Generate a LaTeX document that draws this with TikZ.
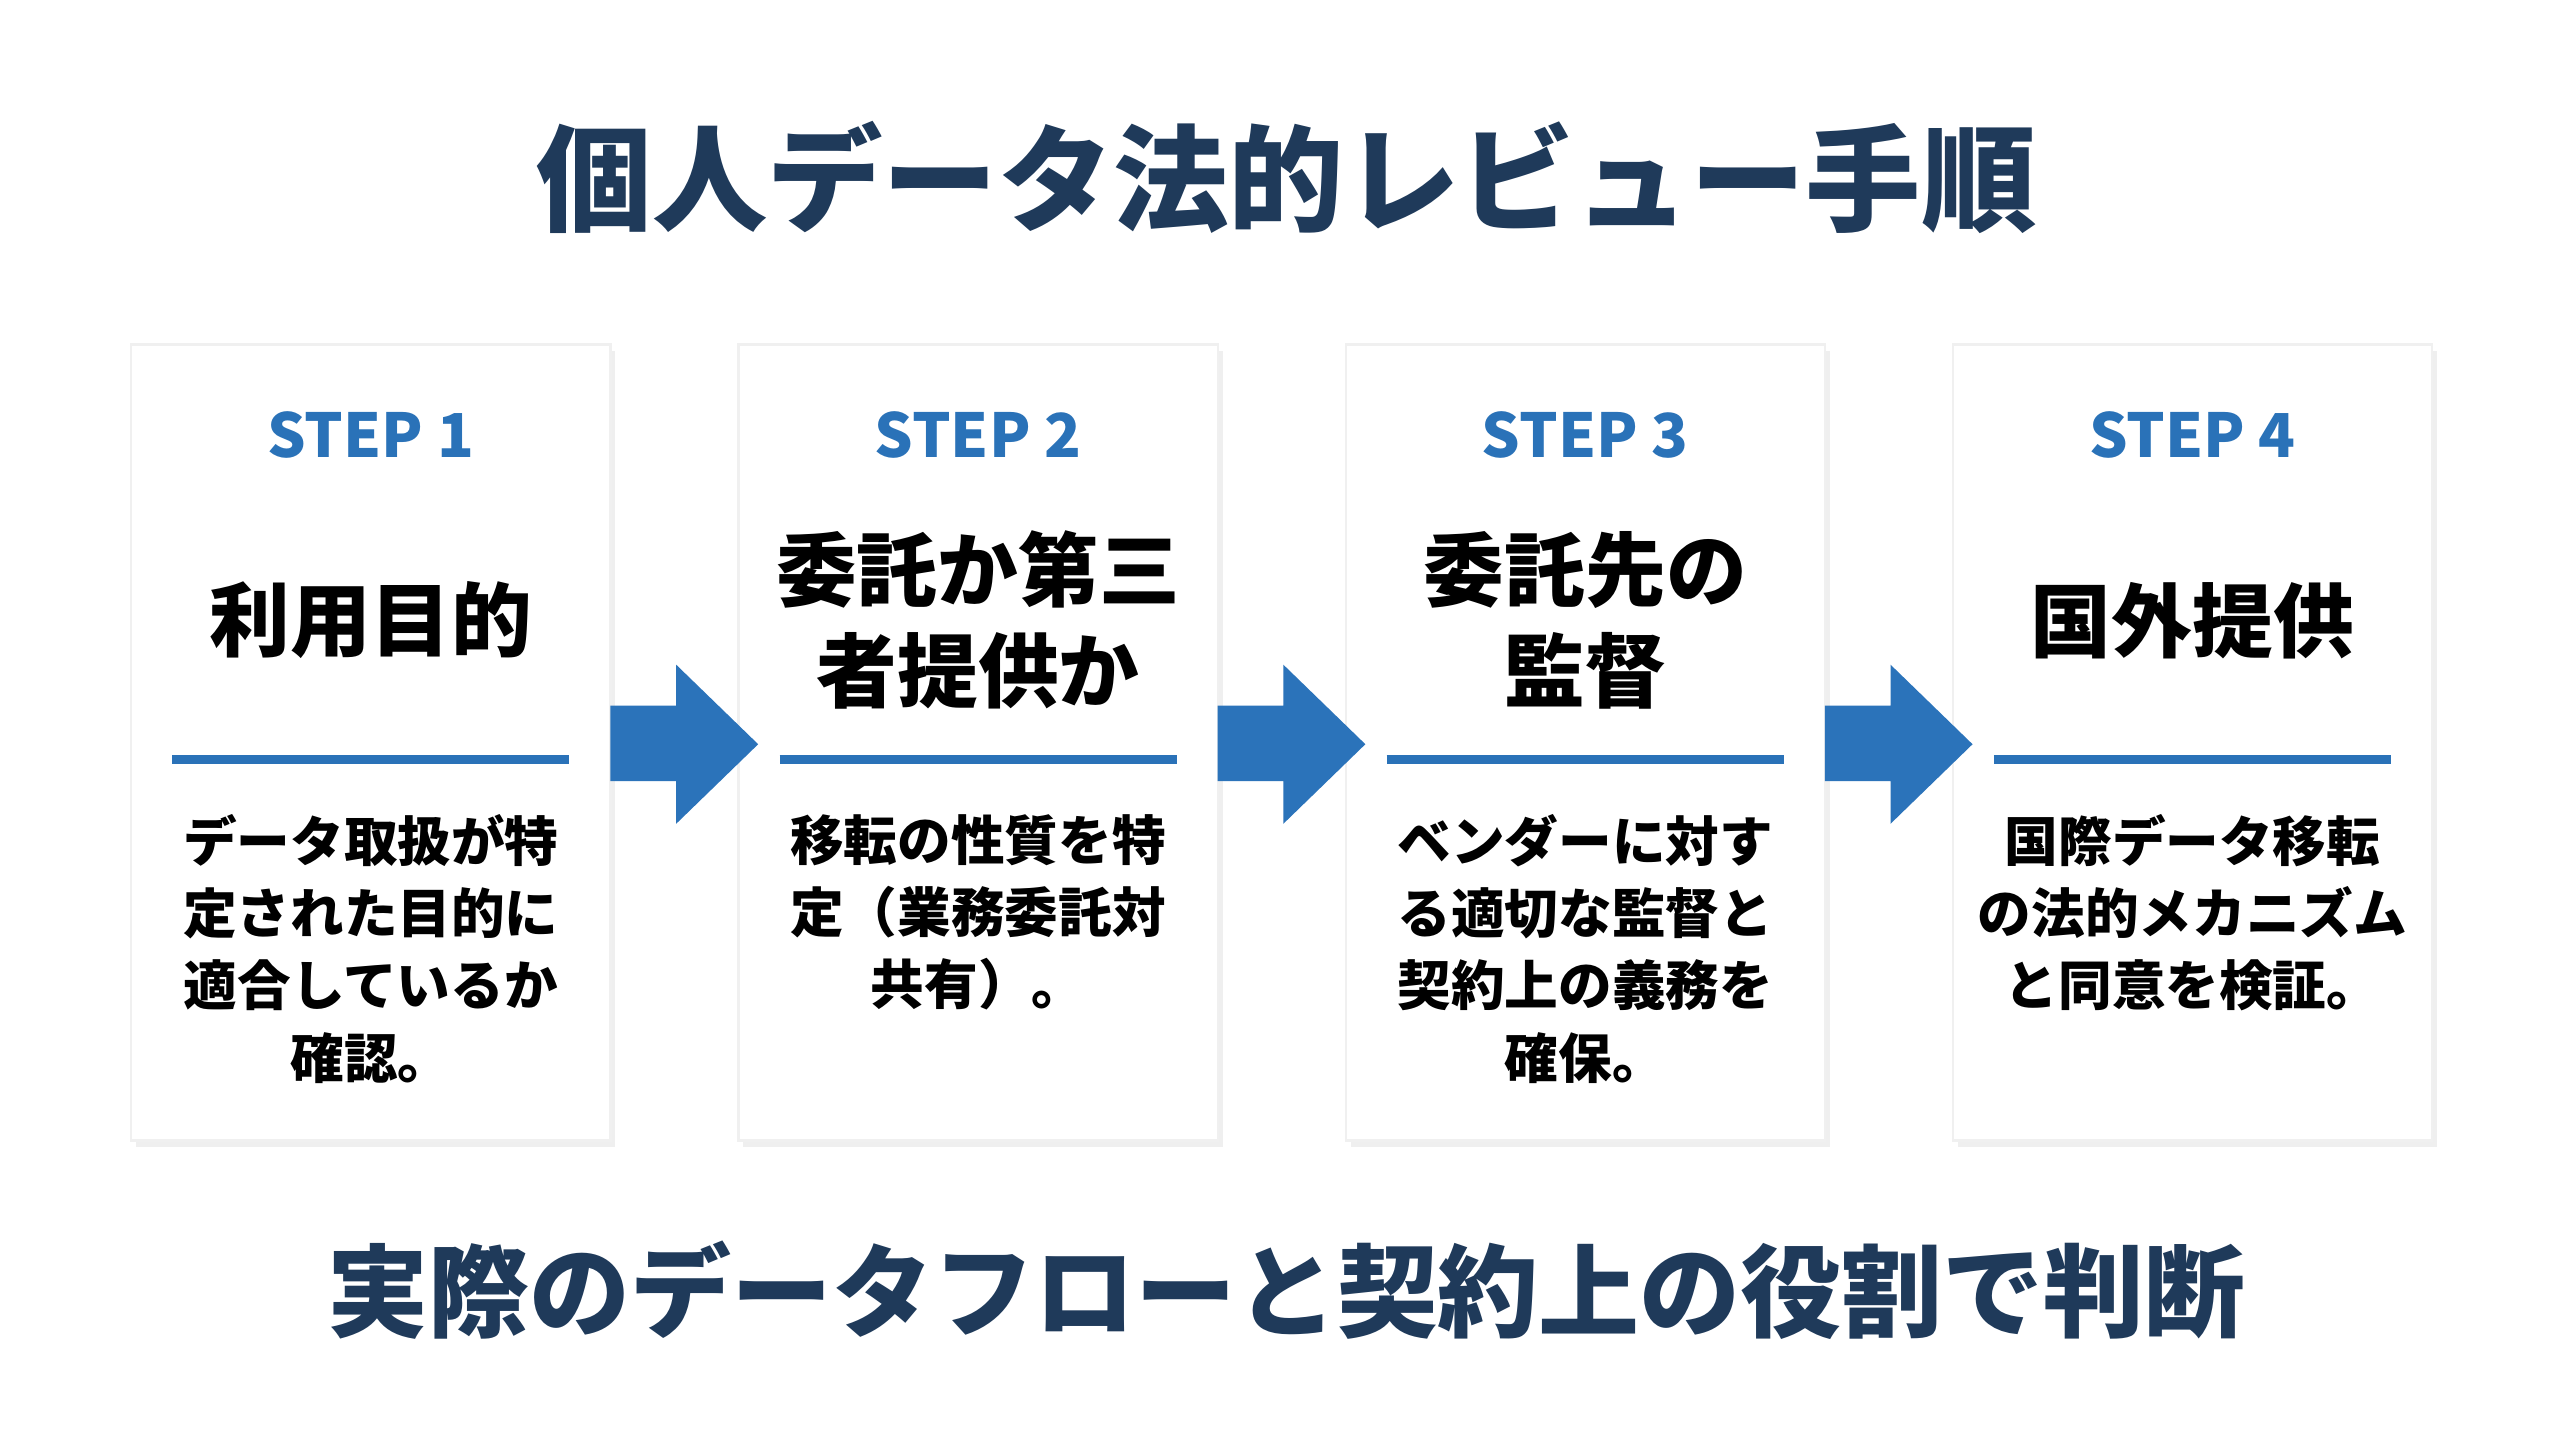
\documentclass[tikz,border=0pt]{standalone}
\usepackage{fontspec}
\setmainfont{Noto Sans CJK JP}
\usepackage{xcolor}
\usetikzlibrary{calc,shadows}
\definecolor{navy}{HTML}{1F3A5A}
\definecolor{stepblue}{HTML}{2A72B8}
\definecolor{arrowblue}{HTML}{2B73BA}

\tikzset{
  card/.style={fill=white,draw=black!6,drop shadow={opacity=0.12,shadow xshift=0.03,shadow yshift=-0.04}},
  steplabel/.style={text=stepblue,font=\bfseries\fontsize{10.5}{12}\selectfont},
  heading/.style={font=\bfseries\fontsize{14}{17.5}\selectfont,align=center},
  body/.style={font=\bfseries\fontsize{9.3}{12.5}\selectfont,align=center,anchor=north},
}

\begin{document}
\begin{tikzpicture}[x=1cm,y=1cm]
        %%% BACKGROUND %%%
        \useasboundingbox (0,0) rectangle (15.6,-8.71);
        \fill[white] (0,0) rectangle (15.6,-8.71);

        %%% TITLE %%%
        \node[text=navy,font=\bfseries\fontsize{20}{24}\selectfont] (title) at (7.84,-1.08) {個人データ法的レビュー手順};

        %%% CARDS %%%
        \foreach \i/\x in {1/0.80,2/4.50,3/8.20,4/11.90}{
          \draw[card] (\x,-2.10) rectangle ++(2.92,-4.85);
          \coordinate (c\i) at ($(\x,0)+(1.46,0)$);
          \node[steplabel] (step\i) at ($(c\i)+(0,-2.65)$) {STEP \i};
          \draw[stepblue,line width=1.6pt] ($(c\i)+(-1.21,-4.63)$) coordinate (l\i) -- ($(c\i)+(1.21,-4.63)$) coordinate (r\i);
        }

        \node[heading] (h1) at ($(c1)+(0,-3.78)$) {利用目的};
        \node[heading] (h2) at ($(c2)+(0,-3.78)$) {委託か第三\\者提供か};
        \node[heading] (h3) at ($(c3)+(0,-3.78)$) {委託先の\\監督};
        \node[heading] (h4) at ($(c4)+(0,-3.78)$) {国外提供};

        \node[body] (b1) at ($(c1)+(0,-4.84)$) {データ取扱が特\\定された目的に\\適合しているか\\確認。};
        \node[body] (b2) at ($(c2)+(0,-4.84)$) {移転の性質を特\\定（業務委託対\\共有）。};
        \node[body] (b3) at ($(c3)+(0,-4.84)$) {ベンダーに対す\\る適切な監督と\\契約上の義務を\\確保。};
        \node[body] (b4) at ($(c4)+(0,-4.84)$) {国際データ移転\\の法的メカニズム\\と同意を検証。};

        %%% ARROWS %%%
        \foreach \x in {3.72,7.42,11.12}{
          \fill[arrowblue] (\x,-4.30) -- ++(0.40,0) -- ++(0,0.25) -- ++(0.50,-0.485)
            -- ++(-0.50,-0.485) -- ++(0,0.26) -- ++(-0.40,0) -- cycle;
        }

        %%% FOOTER %%%
        \node[text=navy,font=\bfseries\fontsize{17.5}{21}\selectfont] (footer) at (7.84,-7.86) {実際のデータフローと契約上の役割で判断};
    \end{tikzpicture}
\end{document}
